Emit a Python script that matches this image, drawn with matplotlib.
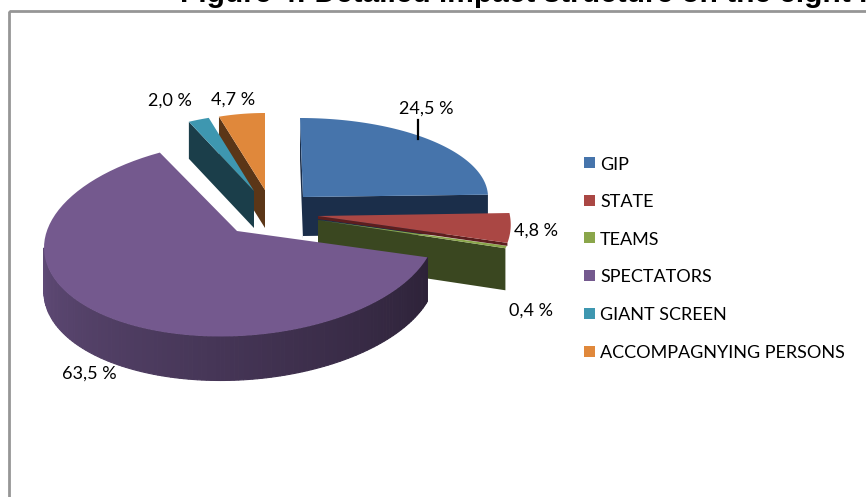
#!/usr/bin/env python3
"""Exploded 3D-look pie of the detailed impact structure."""

import numpy as np
import matplotlib
matplotlib.use("Agg")
import matplotlib.pyplot as plt
from matplotlib.colors import to_rgb
from matplotlib.patches import Rectangle

categories = ["GIP", "STATE", "TEAMS", "SPECTATORS", "GIANT SCREEN", "ACCOMPAGNYING PERSONS"]
values = [24.5, 4.8, 0.4, 63.5, 2.0, 4.7]
value_labels = ["24,5 %", "4,8 %", "0,4 %", "63,5 %", "2,0 %", "4,7 %"]

TOP = ["#4674AB", "#AA4744", "#8AA64A", "#74598E", "#3E97B0", "#E0883B"]
WALL = ["#1B2E4A", "#5C1E1E", "#3A4720", "#2E2238", "#1B3E4A", "#5B3617"]

# centre x, centre y, radius x, radius y, apex x, apex y, tilt, shear (pixels)
GEOM = [
    (300, 197, 188, 79, 303, 197, 0, 0),
    (318, 216, 192, 100, 318, 216, 0, 0.167),
    (318, 219, 196, 100, 318, 220, 0, 0),
    (240, 238, 196, 98, 237, 231, 0.05, 0),
    (258, 203, 169, 89, 254, 191, 0, 0),
    (265, 198, 158, 85, 265, 190, 0, 0),
]
LABEL_POS = [(426, 109), (536, 231), (531, 311), (89, 374), (170, 101), (233, 100)]
LEGEND_Y = [162.5, 200, 237.7, 275.5, 313.3, 351]


def rim(i, angle):
    cx, cy, rx, ry, _, _, tilt, shear = GEOM[i]
    dx = rx * np.sin(angle)
    dy = -ry * np.cos(angle)
    return cx + dx + shear * dy, cy + dy - tilt * dx


def arc(i, a0, a1, n=80):
    t = np.linspace(a0, a1, n)
    x, y = rim(i, t)
    return np.column_stack([x, y])


def side_wall(ax, i, angle, depth, color=None):
    # flat wall running from the apex out to the rim at this angle
    ax_, ay_ = GEOM[i][4:6]
    rx_, ry_ = rim(i, angle)
    ax.fill([ax_, rx_, rx_, ax_], [ay_, ry_, ry_ + depth, ay_ + depth],
            color=color or WALL[i], lw=0)


def top_face(ax, i, a0, a1):
    pts = np.vstack([[GEOM[i][4:6]], arc(i, a0, a1)])
    ax.fill(pts[:, 0], pts[:, 1], color=TOP[i], lw=0)


def outer_wall(ax, i, a0, a1, depth, c_start, c_end, n=120):
    # curved rim, drawn as thin strips for the light falloff
    edges = np.linspace(a0, a1, n + 1)
    c0, c1 = np.array(to_rgb(c_start)), np.array(to_rgb(c_end))
    for k in range(n):
        x0, y0 = rim(i, edges[k])
        x1, y1 = rim(i, edges[k + 1])
        col = c0 + (c1 - c0) * k / (n - 1)
        ax.fill([x0, x1, x1, x0], [y0, y1, y1 + depth, y0 + depth], color=col, lw=0.8)


fig = plt.figure(figsize=(8.66, 4.97), dpi=100)
ax = fig.add_axes([0, 0, 1, 1])
ax.set_xlim(0, 866)
ax.set_ylim(497, 0)
ax.axis("off")

# start and end angle of every slice, clockwise from 12 o'clock
ends = np.cumsum(values) / np.sum(values) * 2 * np.pi
starts = np.r_[0, ends[:-1]]

ax.add_patch(Rectangle((8.5, 10.5), 860, 500, fill=False, ec="#969696", lw=2))
ax.text(180, 2.5, "Figure 4: Detailed impact structure on the eight host cities",
        family="Liberation Sans", fontweight="bold", fontsize=21.5, color="black",
        va="baseline", ha="left", clip_on=True)

DEPTH = 42

# GIP
side_wall(ax, 0, starts[0], DEPTH)
side_wall(ax, 0, ends[0], DEPTH - 3)
top_face(ax, 0, starts[0], ends[0])
# STATE and TEAMS
side_wall(ax, 2, ends[2], DEPTH)
top_face(ax, 2, starts[2], ends[2])
side_wall(ax, 1, ends[1], 3)
top_face(ax, 1, starts[1], ends[1])
# SPECTATORS
outer_wall(ax, 3, starts[3], np.pi * 1.5, 44, "#2D2238", "#5F4A76")
top_face(ax, 3, starts[3], ends[3])
# ACCOMPANYING PERSONS then GIANT SCREEN in front of it
side_wall(ax, 5, starts[5], 38)
top_face(ax, 5, starts[5], ends[5])
side_wall(ax, 4, starts[4], 37)
top_face(ax, 4, starts[4], ends[4])

# leader line of the GIP label
lead_x, lead_y = rim(0, np.radians(39))
ax.plot([lead_x, lead_x], [120, lead_y + 3], color="black", lw=1.6)

for lab, (x, y) in zip(value_labels, LABEL_POS):
    ax.text(x, y, lab, family="Lato", fontsize=13, color="black", ha="center", va="center")

for name, col, y in zip(categories, TOP, LEGEND_Y):
    ax.add_patch(Rectangle((584, y - 5.5), 11, 11, color=col, lw=0))
    ax.text(600, y + 2, name, family="Lato", fontsize=13, color="black", va="center", ha="left")

fig.savefig("out.png", dpi=100)
plt.close(fig)
